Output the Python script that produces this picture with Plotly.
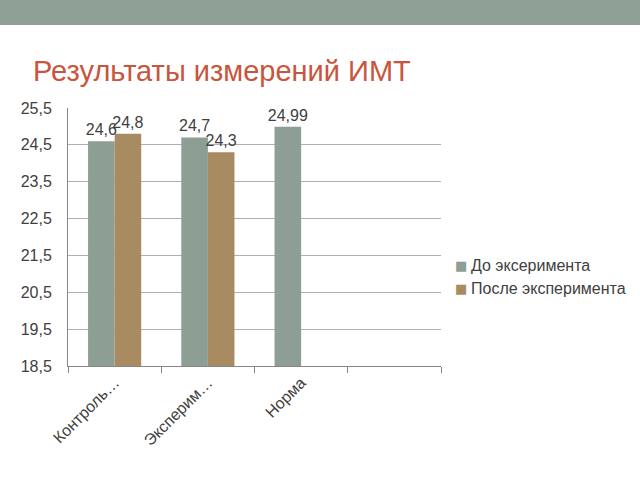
import plotly.graph_objects as go

categories = ["Контроль…", "Эксперим…", "Норма", " "]
before_vals = [24.6, 24.7, 24.99, None]
after_vals = [24.8, 24.3, None, None]
before_text = ["24,6", "24,7", "24,99", ""]
after_text = ["24,8", "24,3", "", ""]
y_ticks = [18.5, 19.5, 20.5, 21.5, 22.5, 23.5, 24.5, 25.5]
y_tick_text = ["18,5", "19,5", "20,5", "21,5", "22,5", "23,5", "24,5", "25,5"]
series_names = ["До эксеримента", "После эксперимента"]
series_colors = ["#8d9e95", "#a98b62"]

font_family = "Liberation Sans, Arial, sans-serif"
L, R, T, B = 68, 199, 108, 114
PW, PH = 640 - L - R, 480 - T - B

def px_x(px):
    return (px - L) / PW

def px_y(py):
    return (480 - B - py) / PH

fig = go.Figure()
for vals, txt, name, col in [(before_vals, before_text, series_names[0], series_colors[0]),
                             (after_vals, after_text, series_names[1], series_colors[1])]:
    fig.add_trace(go.Bar(x=categories, y=vals, name=name,
                         marker=dict(color=col, line=dict(width=0)),
                         text=txt, textposition="outside", constraintext="none",
                         textfont=dict(size=16, color="#404040", family=font_family),
                         cliponaxis=False))

fig.update_layout(
    width=640, height=480,
    margin=dict(l=L, r=R, t=T, b=B),
    paper_bgcolor="white", plot_bgcolor="white",
    barmode="group", bargap=0.43, bargroupgap=0,
    font=dict(family=font_family, size=15, color="#404040"),
    title=dict(text="Результаты измерений ИМТ", x=33/640, xanchor="left",
               xref="container", y=1-71/480, yanchor="middle", yref="container",
               font=dict(size=29, color="#c8553d", family=font_family)),
    showlegend=False,
)
fig.update_xaxes(type="category", showline=True, linecolor="#868686", linewidth=1,
                 ticks="outside", tickson="boundaries", ticklen=6, tickcolor="#868686",
                 tickangle=-45, tickfont=dict(size=16, color="#404040"),
                 showgrid=False, range=[-0.5, 3.5])
fig.update_yaxes(range=[18.5, 25.5], tickvals=y_ticks, ticktext=y_tick_text,
                 showline=True, linecolor="#868686", linewidth=1,
                 showgrid=True, gridcolor="#b0b0b0", gridwidth=1,
                 ticks="", ticklabelstandoff=12,
                 tickfont=dict(size=16, color="#404040"), zeroline=False)

# legend drawn as annotations so it does not shrink the plot area
for i, (name, col) in enumerate(zip(series_names, series_colors)):
    yc = px_y(265 + 23 * i)
    fig.add_annotation(xref="paper", yref="paper", x=px_x(461), y=yc,
                       xanchor="center", yanchor="middle", showarrow=False,
                       text="■", font=dict(size=13, color=col, family="DejaVu Sans"))
    fig.add_annotation(xref="paper", yref="paper", x=px_x(469), y=yc,
                       xanchor="left", yanchor="middle", showarrow=False,
                       text=name, font=dict(size=16, color="#404040", family=font_family))

fig.add_shape(type="rect", xref="paper", yref="paper", x0=-1, x1=2,
              y0=px_y(25), y1=px_y(-5), fillcolor="#8fa096",
              line=dict(width=0), layer="below")

fig.write_html("out.html")
